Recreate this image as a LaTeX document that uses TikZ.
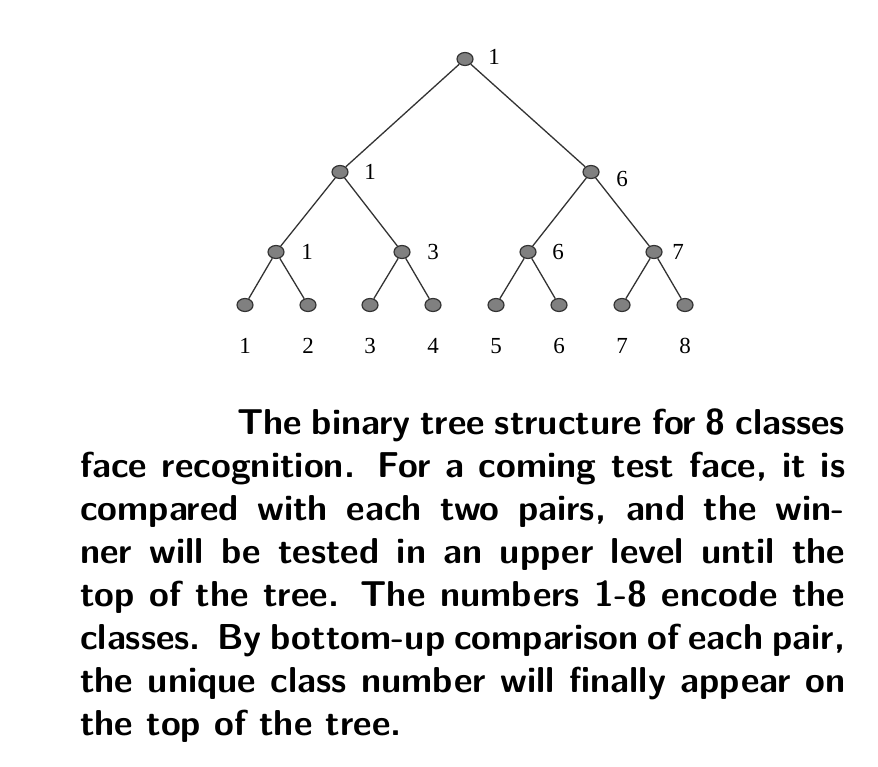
\documentclass[tikz,border=0pt]{standalone}
\usepackage{fontspec}
\newfontfamily\numfont{Liberation Serif}
\tikzset{
  tn/.style={ellipse, draw=black!80, line width=1.2pt, fill=black!50, minimum width=16pt, minimum height=13pt, inner sep=0pt},
  lbl/.style={font=\numfont\fontsize{23}{25}\selectfont, inner sep=0pt},
  edge/.style={draw=black!80, line width=1.3pt}
}
\usetikzlibrary{shapes.geometric}
\begin{document}
\begin{tikzpicture}[x=1pt,y=-1pt]
\useasboundingbox (0,0) rectangle (878,766);
\fill[white] (0,0) rectangle (878,766);
% nodes
\node[tn] (r) at (465,59) {};
\node[tn] (a) at (340,172) {};
\node[tn] (b) at (591,172) {};
\node[tn] (a1) at (276,252) {};
\node[tn] (a2) at (402,252) {};
\node[tn] (b1) at (528,252) {};
\node[tn] (b2) at (654,252) {};
\foreach \i/\x in {1/245,2/308,3/370,4/433,5/496,6/559,7/622,8/685}{
  \node[tn] (l\i) at (\x,305) {};
  \node[lbl] (t\i) at (\x,346) {\i};
}
% edges
\draw[edge] (r) -- (a);
\draw[edge] (r) -- (b);
\draw[edge] (a) -- (a1);
\draw[edge] (a) -- (a2);
\draw[edge] (b) -- (b1);
\draw[edge] (b) -- (b2);
\draw[edge] (a1) -- (l1);
\draw[edge] (a1) -- (l2);
\draw[edge] (a2) -- (l3);
\draw[edge] (a2) -- (l4);
\draw[edge] (b1) -- (l5);
\draw[edge] (b1) -- (l6);
\draw[edge] (b2) -- (l7);
\draw[edge] (b2) -- (l8);
% labels of inner nodes
\node[lbl] (rl) at (494,57) {1};
\node[lbl] (al) at (370,172) {1};
\node[lbl] (bl) at (622,179) {6};
\node[lbl] (a1l) at (307,252) {1};
\node[lbl] (a2l) at (433,252) {3};
\node[lbl] (b1l) at (558,252) {6};
\node[lbl] (b2l) at (678,252) {7};
% caption
\node[anchor=north west, inner sep=0pt, text width=765pt, align=justify,
      font=\sffamily\bfseries\fontsize{36}{43}\selectfont] (cap) at (80,409)
{\hspace*{157pt}The binary tree structure for 8 classes\linebreak
face recognition. For a coming test face, it is\linebreak
compared with each two pairs, and the win-\linebreak
ner will be tested in an upper level until the\linebreak
top of the tree. The numbers 1-8 encode the\linebreak
classes. By bottom-up comparison of each pair,\linebreak
the unique class number will finally appear on\linebreak
the top of the tree.};
\end{tikzpicture}
\end{document}
